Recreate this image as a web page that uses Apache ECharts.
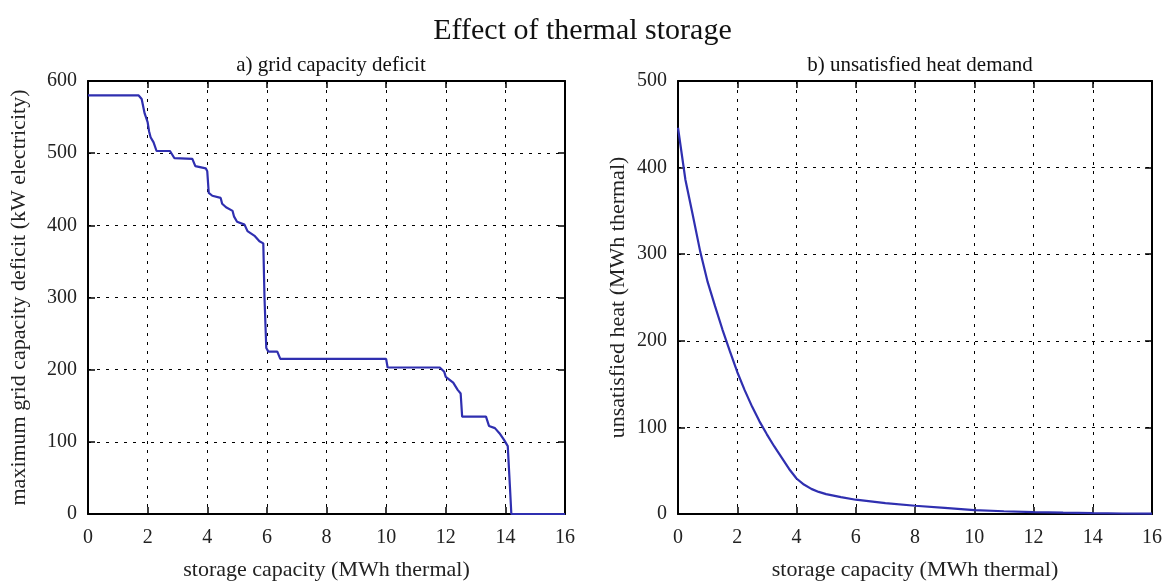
<!DOCTYPE html>
<html>
<head>
<meta charset="utf-8">
<script src="https://cdn.jsdelivr.net/npm/echarts@6/dist/echarts.min.js"></script>
<style>
html,body{margin:0;padding:0;background:#fff;}
#chart{width:1165px;height:582px;}
</style>
</head>
<body>
<div id="chart"></div>
<script>
// ---- data ----
var titleText = "Effect of thermal storage";
var subtitleA = "a) grid capacity deficit";
var subtitleB = "b) unsatisfied heat demand";
var xAxisName = "storage capacity (MWh thermal)";
var yNameA = "maximum grid capacity deficit (kW electricity)";
var yNameB = "unsatisfied heat (MWh thermal)";

// a) grid capacity deficit (step-like curve)
var deficitX = [0, 1.7, 1.8, 1.9, 2.0, 2.05, 2.1, 2.2, 2.3, 2.75, 2.9, 3.5, 3.6, 3.95, 4.0, 4.05, 4.17, 4.45, 4.5, 4.63, 4.85, 4.9, 5.0, 5.25, 5.35, 5.6, 5.75, 5.88, 5.92, 5.98, 6.05, 6.35, 6.45, 10.0, 10.05, 11.8, 11.95, 12.0, 12.25, 12.4, 12.5, 12.55, 13.35, 13.45, 13.65, 13.8, 13.95, 14.08, 14.15, 14.2, 16];
var deficitY = [580, 580, 575, 555, 543, 530, 522, 515, 503, 503, 493, 492, 482, 479, 475, 445, 441, 438, 430, 425, 420, 412, 405, 401, 392, 385, 378, 375, 300, 230, 225, 225, 215, 215, 203, 203, 197, 190, 182, 172, 167, 135, 135, 122, 119, 112, 103, 94, 40, 0, 0];

// b) unsatisfied heat demand
var heatX = [0, 0.25, 0.5, 0.75, 1.0, 1.25, 1.5, 1.75, 2.0, 2.25, 2.5, 2.75, 3.0, 3.25, 3.5, 3.75, 4.0, 4.25, 4.5, 4.75, 5.0, 5.5, 6, 6.5, 7, 8, 9, 10, 11, 12, 13, 14, 15, 16];
var heatY = [446, 386, 345, 303, 268, 240, 213, 188, 164, 143, 124, 107, 92, 78, 65, 52, 41, 34, 29, 25.5, 23, 19.5, 16.5, 14.5, 12.5, 9.5, 7, 4.5, 3.2, 2.2, 1.5, 1, 0.6, 0.4];

var xTicks = [0, 16, 2];
var yTicksA = [0, 600, 100];
var yTicksB = [0, 500, 100];

function pairs(xs, ys){ return xs.map(function(x,i){ return [x, ys[i]]; }); }

var FONT = "Liberation Serif";
var lineColor = "#2f2fb0";

function axisBase(pos, min, max, interval, isMain, name, gap, isX){
  return {
    type: 'value', position: pos, min: min, max: max, interval: interval,
    axisLine: {show: true, onZero: false, lineStyle: {color: '#000', width: 2}},
    axisTick: {show: true, inside: true, length: 7, lineStyle: {color: '#000', width: 1.5}},
    axisLabel: {show: isMain, color: '#222', fontFamily: FONT, fontSize: 20, margin: isX ? 14 : 11},
    splitLine: {show: isMain, lineStyle: {color: '#000', type: [3, 6], width: 1}},
    name: isMain ? name : '', nameLocation: 'middle', nameGap: gap,
    nameTextStyle: {color: '#222', fontFamily: FONT, fontSize: 22}
  };
}

var chart = echarts.init(document.getElementById('chart'), null, {renderer: 'canvas'});
var option = {
  backgroundColor: '#fff',
  animation: false,
  title: [
    {text: titleText, left: 'center', top: 11, textStyle: {fontFamily: FONT, fontWeight: 'normal', fontSize: 30, color: '#111'}},
    {text: subtitleA, left: 326, top: 50, textAlign: 'center', textStyle: {fontFamily: FONT, fontWeight: 'normal', fontSize: 21, color: '#111'}},
    {text: subtitleB, left: 915, top: 50, textAlign: 'center', textStyle: {fontFamily: FONT, fontWeight: 'normal', fontSize: 21, color: '#111'}}
  ],
  grid: [
    {left: 88, top: 81, width: 477, height: 433, containLabel: false, outerBoundsMode: 'none'},
    {left: 678, top: 81, width: 474, height: 433, containLabel: false, outerBoundsMode: 'none'}
  ],
  xAxis: [
    Object.assign(axisBase('bottom', xTicks[0], xTicks[1], xTicks[2], true, xAxisName, 45, true), {gridIndex: 0}),
    Object.assign(axisBase('top', xTicks[0], xTicks[1], xTicks[2], false, '', 0, true), {gridIndex: 0}),
    Object.assign(axisBase('bottom', xTicks[0], xTicks[1], xTicks[2], true, xAxisName, 45, true), {gridIndex: 1}),
    Object.assign(axisBase('top', xTicks[0], xTicks[1], xTicks[2], false, '', 0, true), {gridIndex: 1})
  ],
  yAxis: [
    Object.assign(axisBase('left', yTicksA[0], yTicksA[1], yTicksA[2], true, yNameA, 58, false), {gridIndex: 0}),
    Object.assign(axisBase('right', yTicksA[0], yTicksA[1], yTicksA[2], false, '', 0, false), {gridIndex: 0}),
    Object.assign(axisBase('left', yTicksB[0], yTicksB[1], yTicksB[2], true, yNameB, 49, false), {gridIndex: 1}),
    Object.assign(axisBase('right', yTicksB[0], yTicksB[1], yTicksB[2], false, '', 0, false), {gridIndex: 1})
  ],
  series: [
    {type: 'line', xAxisIndex: 0, yAxisIndex: 0, data: pairs(deficitX, deficitY), showSymbol: false,
     lineStyle: {color: lineColor, width: 2.2}, z: 5},
    {type: 'line', xAxisIndex: 2, yAxisIndex: 2, data: pairs(heatX, heatY), showSymbol: false,
     lineStyle: {color: lineColor, width: 2.2}, z: 5}
  ]
};
chart.setOption(option);
</script>
</body>
</html>
